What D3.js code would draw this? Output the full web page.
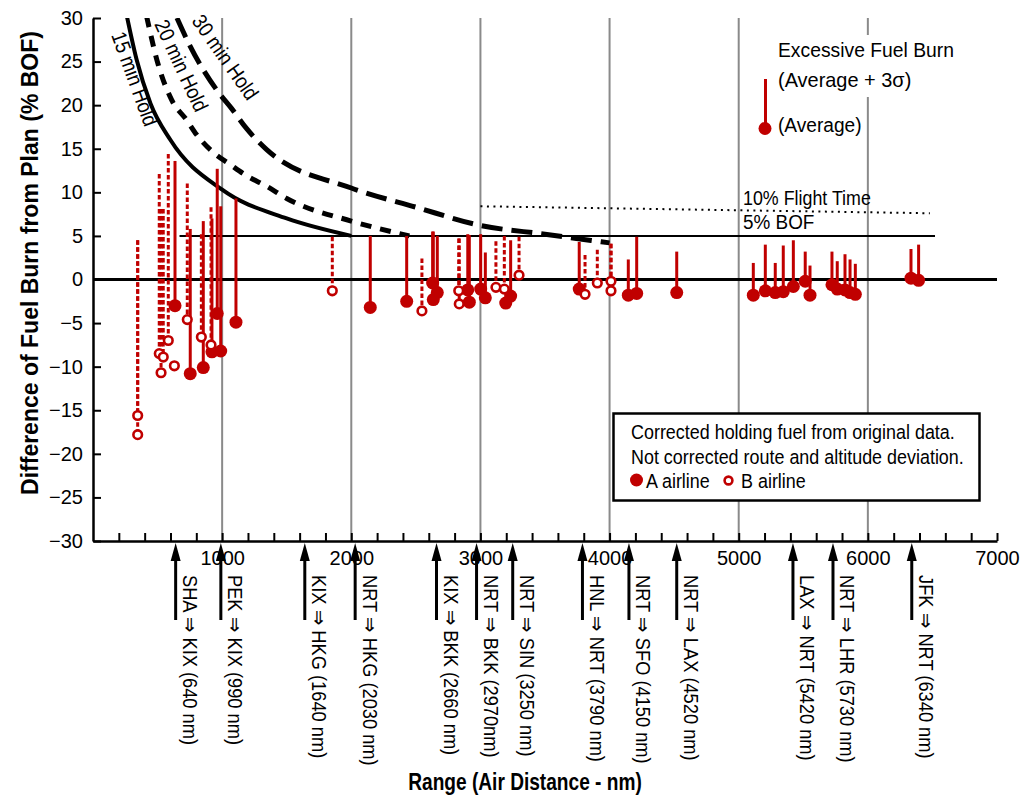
<!DOCTYPE html>
<html>
<head>
<meta charset="utf-8">
<script src="https://cdn.jsdelivr.net/npm/d3@7"></script>
<style>
  body { margin: 0; background: #fff; }
  text { font-family: 'Liberation Sans', Arial, sans-serif; fill: #000; }
</style>
</head>
<body>
<svg id="chart" width="1023" height="797"></svg>
<script>
// ---- axis ticks -------------------------------------------------------
const yTickValues = [-30, -25, -20, -15, -10, -5, 0, 5, 10, 15, 20, 25, 30];
const xMinorTicks = [200, 400, 600, 800, 1000, 1200, 1400, 1600, 1800, 2000, 2200, 2400, 2600, 2800,
  3000, 3200, 3400, 3600, 3800, 4000, 4200, 4400, 4600, 4800, 5000, 5200, 5400, 5600, 5800,
  6000, 6200, 6400, 6600, 6800, 7000];
const xLabelValues = [1000, 2000, 3000, 4000, 5000, 6000, 7000];
const gridDist = [1000, 2000, 3000, 4000, 5000, 6000];

// ---- routes marked under the axis --------------------------------------
const routeDist = [640, 990, 1640, 2030, 2660, 2970, 3250, 3790, 4150, 4520, 5420, 5730, 6340];
const routeLabels = ["SHA ⇒ KIX (640 nm)", "PEK ⇒ KIX (990 nm)", "KIX ⇒ HKG (1640 nm)",
  "NRT ⇒ HKG (2030 nm)", "KIX ⇒ BKK (2660 nm)", "NRT ⇒ BKK (2970nm)", "NRT ⇒ SIN (3250 nm)",
  "HNL ⇒ NRT (3790 nm)", "NRT ⇒ SFO (4150 nm)", "NRT ⇒ LAX (4520 nm)", "LAX ⇒ NRT (5420 nm)",
  "NRT ⇒ LHR (5730 nm)", "JFK ⇒ NRT (6340 nm)"];

// ---- holding fuel curves (% BOF vs range) ------------------------------
const hold15Dist = [261, 338, 445, 600, 1000, 1500, 2000];
const hold15Pct  = [30.3, 25.2, 20.2, 16.0, 10.3, 7.0, 5.0];
const hold20Dist = [415, 506, 609, 725, 803, 937, 1061, 1190, 1345, 1500, 2000, 2450];
const hold20Pct  = [30.2, 24.6, 20.6, 18.3, 16.6, 14.5, 13.2, 11.9, 10.7, 9.3, 6.7, 5.0];
const hold30Dist = [650, 751, 970, 1074, 1190, 1345, 2000, 2500, 3000, 3500, 4000];
const hold30Pct  = [30.0, 26.8, 21.5, 19.6, 17.3, 14.9, 10.5, 8.3, 6.2, 5.2, 4.2];

// ---- reference lines ---------------------------------------------------
const bofLineDist = [670, 6520];
const bofLinePct  = [5, 5];
const flightTimeDist = [3000, 6480];
const flightTimePct  = [8.4, 7.6];

// ---- A airline: average and average + 3 sigma ---------------------------
const aDist = [635, 753, 854, 921, 962, 989, 1107, 2147, 2429, 2630, 2635, 2666, 2902, 2914, 3002,
  3038, 3196, 3234, 3765, 4145, 4210, 4520, 5113, 5206, 5283, 5345, 5423, 5515, 5552, 5722, 5763,
  5823, 5862, 5903, 6334, 6393];
const aAvg = [-3.0, -10.8, -10.1, -8.3, -3.9, -8.2, -4.9, -3.2, -2.5, -0.4, -2.3, -1.5, -1.2, -2.6,
  -1.1, -2.1, -2.7, -1.9, -1.1, -1.8, -1.6, -1.5, -1.8, -1.3, -1.5, -1.4, -0.8, -0.2, -1.8, -0.6,
  -1.1, -1.2, -1.5, -1.7, 0.15, -0.1];
const aMax = [13.6, 5.8, 6.7, 7.0, 12.7, 8.4, 9.3, 5.0, 5.0, 5.5, 5.5, 5.0, 5.2, 5.1, 5.2, 3.1,
  -2.7, 4.5, 4.3, 2.3, 4.9, 3.2, 1.9, 4.0, 1.9, 3.9, 4.5, 3.2, 1.6, 3.2, 2.1, 2.9, 2.3, 1.8, 3.5, 4.0];

// ---- B airline: average and average + 3 sigma ---------------------------
const bDist = [346, 346, 513, 527, 544, 583, 630, 730, 839, 914, 1853, 2547, 2832, 2836, 3120,
  3185, 3299, 3810, 3905, 4011, 4011];
const bAvg = [-15.6, -17.8, -8.5, -10.7, -8.9, -7.0, -9.9, -4.6, -6.6, -7.5, -1.3, -3.6, -1.3, -2.8,
  -0.9, -1.1, 0.5, -1.7, -0.4, -0.2, -1.3];
const bMax = [4.5, 4.5, 12.1, 8.1, 8.1, 14.4, -9.9, 11.0, 5.2, 8.3, 4.9, 2.4, 4.7, 4.7, 4.4, 5.0,
  4.9, 2.8, 3.4, 4.1, 4.1];

const RED = "#c00000";

const svg = d3.select("#chart");
const x = d3.scaleLinear().domain([0, 7000]).range([93, 997]);
const y = d3.scaleLinear().domain([-30, 30]).range([541, 18]);

// text helper: condensed glyphs via a horizontal scale in the text's own frame
function label(parent, px, py, txt, size, sx, rot = 0) {
  return parent.append("text")
    .attr("transform", `translate(${px},${py}) rotate(${rot}) scale(${sx},1)`)
    .attr("font-size", size).text(txt);
}

svg.append("defs").append("clipPath").attr("id", "plotClip")
  .append("rect").attr("x", 93).attr("y", 18).attr("width", 904).attr("height", 523);

// vertical grid
svg.append("g").selectAll("line").data(gridDist).join("line")
  .attr("x1", d => x(d)).attr("x2", d => x(d))
  .attr("y1", y(30)).attr("y2", y(-30))
  .attr("stroke", "#8a8a8a").attr("stroke-width", 2);

// reference lines
const lineGen = d3.line().x(d => x(d[0])).y(d => y(d[1]));
svg.append("path").datum(d3.zip(bofLineDist, bofLinePct)).attr("d", lineGen)
  .attr("fill", "none").attr("stroke", "#000").attr("stroke-width", 2);
svg.append("path").datum(d3.zip(flightTimeDist, flightTimePct)).attr("d", lineGen)
  .attr("fill", "none").attr("stroke", "#000").attr("stroke-width", 2)
  .attr("stroke-dasharray", "2,4.5");
svg.append("line").attr("x1", x(0)).attr("x2", x(7000)).attr("y1", y(0)).attr("y2", y(0))
  .attr("stroke", "#000").attr("stroke-width", 3);

// holding curves
const curveGen = d3.line().x(d => x(d[0])).y(d => y(d[1])).curve(d3.curveMonotoneX);
const curves = svg.append("g").attr("clip-path", "url(#plotClip)");
curves.append("path").datum(d3.zip(hold15Dist, hold15Pct)).attr("d", curveGen)
  .attr("fill", "none").attr("stroke", "#000").attr("stroke-width", 4);
curves.append("path").datum(d3.zip(hold20Dist, hold20Pct)).attr("d", curveGen)
  .attr("fill", "none").attr("stroke", "#000").attr("stroke-width", 5)
  .attr("stroke-dasharray", "11,9");
curves.append("path").datum(d3.zip(hold30Dist, hold30Pct)).attr("d", curveGen)
  .attr("fill", "none").attr("stroke", "#000").attr("stroke-width", 5)
  .attr("stroke-dasharray", "21,9");

// curve labels
const cl = svg.append("g");
label(cl, 111, 35, "15 min Hold", 21, 0.88, 70);
label(cl, 154, 24, "20 min Hold", 21, 0.88, 65);
label(cl, 191, 21, "30 min Hold", 21, 0.88, 55);

// data marks
const bData = d3.zip(bDist, bAvg, bMax);
const aData = d3.zip(aDist, aAvg, aMax);
const marks = svg.append("g");
marks.selectAll("line.b").data(bData).join("line").attr("class", "b")
  .attr("x1", d => x(d[0])).attr("x2", d => x(d[0]))
  .attr("y1", d => y(d[2])).attr("y2", d => y(d[1]))
  .attr("stroke", RED).attr("stroke-width", 3).attr("stroke-dasharray", "4.5,2.5");
marks.selectAll("line.a").data(aData).join("line").attr("class", "a")
  .attr("x1", d => x(d[0])).attr("x2", d => x(d[0]))
  .attr("y1", d => y(d[2])).attr("y2", d => y(d[1]))
  .attr("stroke", RED).attr("stroke-width", 3);
marks.selectAll("circle.a").data(aData).join("circle").attr("class", "a")
  .attr("cx", d => x(d[0])).attr("cy", d => y(d[1])).attr("r", 6.5).attr("fill", RED);
marks.selectAll("circle.b").data(bData).join("circle").attr("class", "b")
  .attr("cx", d => x(d[0])).attr("cy", d => y(d[1])).attr("r", 4.3)
  .attr("fill", "#fff").attr("stroke", RED).attr("stroke-width", 2.6);

// axes
const yAxis = svg.append("g").attr("transform", `translate(${x(0)},0)`)
  .call(d3.axisLeft(y).tickValues(yTickValues).tickSizeInner(-8).tickSizeOuter(0).tickPadding(10));
const xAxis = svg.append("g").attr("transform", `translate(0,${y(-30)})`)
  .call(d3.axisBottom(x).tickValues(xMinorTicks).tickSizeInner(-8).tickSizeOuter(0).tickPadding(10)
    .tickFormat(d => xLabelValues.includes(d) ? d : ""));
[yAxis, xAxis].forEach(g => {
  g.attr("font-family", null).attr("font-size", null);
  g.selectAll("text").attr("font-size", 20);
  g.select(".domain").attr("stroke-width", 2.5);
  g.selectAll(".tick line").attr("stroke-width", 2);
});

// route arrows and labels
const routes = d3.zip(routeDist, routeLabels);
const rg = svg.append("g");
rg.selectAll("path").data(routes).join("path")
  .attr("d", d => { const cx = x(d[0]); return `M${cx},543 L${cx - 5},561 L${cx + 5},561 Z`; })
  .attr("fill", "#000");
rg.selectAll("line").data(routes).join("line")
  .attr("x1", d => x(d[0])).attr("x2", d => x(d[0]))
  .attr("y1", 558).attr("y2", 620).attr("stroke", "#000").attr("stroke-width", 3);
routes.forEach(d => label(rg, x(d[0]) + 7.5, 575, d[1], 21, 0.87, 90));

// reference line labels
label(svg, 743, 205, "10% Flight Time", 21, 0.85);
label(svg, 743, 229, "5% BOF", 21, 0.9);

// statistic key (top right)
svg.append("rect").attr("x", 775).attr("y", 35).attr("width", 185).attr("height", 62).attr("fill", "#fff");
label(svg, 778, 57, "Excessive Fuel Burn", 21, 0.92);
label(svg, 778, 87, "(Average + 3σ)", 21, 0.95);
label(svg, 778, 132, "(Average)", 21, 0.91);
svg.append("line").attr("x1", 765.5).attr("x2", 765.5).attr("y1", 79).attr("y2", 128)
  .attr("stroke", RED).attr("stroke-width", 3);
svg.append("circle").attr("cx", 765).attr("cy", 128.5).attr("r", 6.5).attr("fill", RED);

// airline key box
svg.append("rect").attr("x", 613.5).attr("y", 413.5).attr("width", 366).attr("height", 87)
  .attr("fill", "#fff").attr("stroke", "#000").attr("stroke-width", 2.5);
label(svg, 631, 439, "Corrected holding fuel from original data.", 19.5, 0.92);
label(svg, 631, 464, "Not corrected route and altitude deviation.", 19.5, 0.92);
svg.append("circle").attr("cx", 636.5).attr("cy", 480).attr("r", 6.5).attr("fill", RED);
label(svg, 646, 488, "A airline", 19.5, 0.92);
svg.append("circle").attr("cx", 728.5).attr("cy", 480.5).attr("r", 3.9)
  .attr("fill", "#fff").attr("stroke", RED).attr("stroke-width", 2.6);
label(svg, 741, 488, "B airline", 19.5, 0.92);

// axis titles
label(svg, 525, 790, "Range (Air Distance - nm)", 24.5, 0.78).attr("text-anchor", "middle").attr("font-weight", "bold");
label(svg, 38, 263, "Difference of Fuel Burn from Plan (% BOF)", 23, 1, -90)
  .attr("text-anchor", "middle").attr("font-weight", "bold");
</script>
</body>
</html>
